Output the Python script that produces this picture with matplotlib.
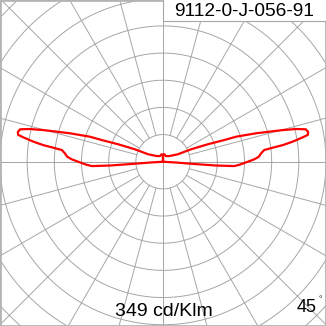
import numpy as np
import matplotlib
matplotlib.use("Agg")
import matplotlib.pyplot as plt
from matplotlib.patches import Rectangle

plt.rcParams["font.family"] = ["Liberation Sans", "DejaVu Sans"]

GAMMA_DEG = [0, 86.5, 85.9, 85.9, 86.5, 87.7, 89.6, 91.5, 93.0, 94.9, 96.6, 97.3,
             97.9, 98.8, 99.9, 100.5, 101.6, 102.8, 103.8, 104.8, 105.8, 107.0,
             108.9, 109.5, 111.3, 113.9, 116.7, 132.1, 152.2, 170.0, 180.0]
INTENSITY = [0, 31, 66, 125, 168, 180, 196, 215, 226, 232, 240, 261,
             285, 309, 334, 347, 349, 345, 323, 292, 260, 229,
             182, 153, 113, 72, 39, 20, 15, 18, 16]

TITLE = "9112-0-J-056-91"
SCALE_LABEL = "349 cd/Klm"
ANGLE_LABEL = "45"

RING_STEP = 64          # cd/klm between circles
N_RINGS = 8
SPOKE_STEP = 15         # degrees
HALF_W = 384            # 6 rings across half the width
PX = HALF_W / 163       # data units per pixel
Y_TOP = 381
Y_BOT = -387

GRID = "#a6a6a6"
RED = "#ff0000"

fig = plt.figure(figsize=(3.26, 3.26), dpi=100)
ax = fig.add_axes([0, 0, 1, 1])
ax.set_xlim(-HALF_W, HALF_W)
ax.set_ylim(Y_BOT, Y_TOP)
ax.set_xticks([])
ax.set_yticks([])
for sp in ax.spines.values():
    sp.set_color("#b4b4b4")
    sp.set_linewidth(2)

# circles
t = np.linspace(0, 2 * np.pi, 400)
for k in range(1, N_RINGS + 1):
    r = RING_STEP * k
    ax.plot(r * np.cos(t), r * np.sin(t), color=GRID, lw=0.7, zorder=1)

# spokes (start at first ring, axes lines go through centre)
for a in range(0, 360, SPOKE_STEP):
    r0 = 0 if a % 90 == 0 else RING_STEP
    ar = np.radians(a)
    ax.plot([r0 * np.cos(ar), 700 * np.cos(ar)], [r0 * np.sin(ar), 700 * np.sin(ar)],
            color=GRID, lw=0.7, zorder=1)

# curve: C180 on the left, C0 mirrored on the right, each closed back to centre
g = np.radians(GAMMA_DEG)
I = np.array(INTENSITY, dtype=float)
for side in (-1, 1):
    x = side * I * np.sin(g)
    y = -I * np.cos(g)
    ax.plot(np.append(x, x[0]), np.append(y, y[0]), color=RED, lw=1.6,
            solid_joinstyle="round", zorder=3)

# title box
box_h = 21 * PX
ax.add_patch(Rectangle((0, Y_TOP - box_h), HALF_W + 5, box_h + 5, facecolor="white",
                       edgecolor=GRID, lw=0.8, zorder=4))
ax.text(151 * PX, Y_TOP - 11 * PX, TITLE, ha="right", va="center",
        fontsize=13.8, zorder=5)

ax.text(1 * PX, Y_BOT + 10 * PX, SCALE_LABEL, ha="center", va="baseline", fontsize=14, zorder=5)
ax.text(154 * PX, Y_BOT + 14.5 * PX, ANGLE_LABEL, ha="right", va="baseline", fontsize=13, zorder=5)
ax.text(155.5 * PX, Y_BOT + 25 * PX, "°", ha="left", va="baseline", fontsize=6, zorder=5)

fig.savefig("out.png", dpi=100)
